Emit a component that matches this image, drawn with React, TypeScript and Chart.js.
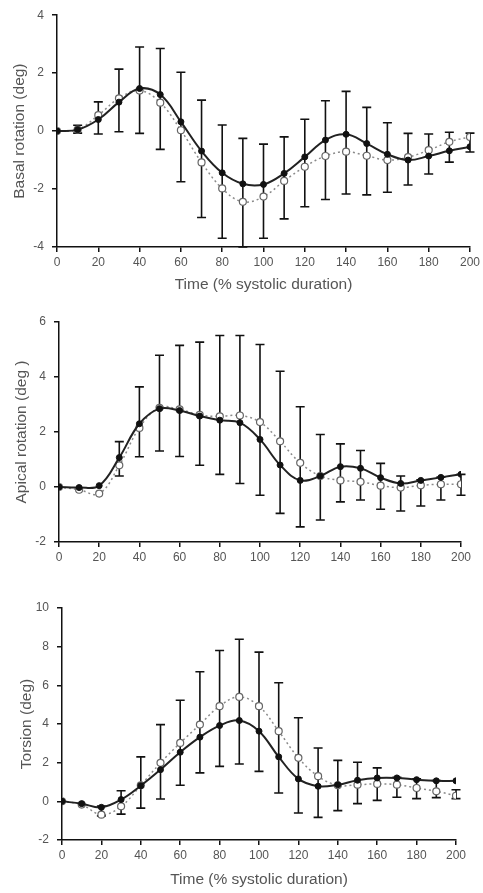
import React, { useEffect, useRef } from "react";
import { Chart, registerables } from "chart.js";

Chart.register(...registerables);

// ---------- data ----------
const timePoints = [0, 10, 20, 30, 40, 50, 60, 70, 80, 90, 100, 110, 120, 130, 140, 150, 160, 170, 180, 190, 200];

const basalSolid = [0, 0.05, 0.4, 1.0, 1.47, 1.26, 0.32, -0.69, -1.44, -1.82, -1.84, -1.46, -0.89, -0.31, -0.11, -0.43, -0.8, -1.0, -0.86, -0.68, -0.54];
const basalOpen = [0, 0.05, 0.55, 1.13, 1.4, 0.98, 0.03, -1.08, -1.98, -2.44, -2.26, -1.72, -1.23, -0.86, -0.71, -0.85, -1.0, -0.9, -0.66, -0.37, -0.2];
const basalErrHigh = [null, 0.2, 1.01, 2.14, 2.9, 2.85, 2.03, 1.07, 0.21, -0.25, -0.45, -0.2, 0.41, 1.05, 1.37, 0.82, 0.29, -0.08, -0.1, -0.04, -0.07];
const basalErrLow = [null, -0.07, -0.1, -0.02, -0.08, -0.63, -1.75, -2.98, -3.7, -4.0, -3.7, -3.03, -2.61, -2.36, -2.17, -2.2, -2.11, -1.86, -1.48, -1.07, -0.72];

const apicalSolid = [0, -0.02, 0.05, 1.07, 2.3, 2.85, 2.78, 2.58, 2.43, 2.34, 1.73, 0.8, 0.24, 0.4, 0.74, 0.68, 0.34, 0.13, 0.24, 0.35, 0.46];
const apicalOpen = [0, -0.1, -0.24, 0.79, 2.15, 2.88, 2.82, 2.62, 2.57, 2.6, 2.36, 1.66, 0.88, 0.4, 0.24, 0.19, 0.05, -0.02, 0.06, 0.1, 0.1];
const apicalErrHigh = [null, null, null, 1.65, 3.64, 4.79, 5.15, 5.27, 5.51, 5.51, 5.18, 4.21, 2.92, 1.91, 1.57, 1.33, 0.86, 0.4, 0.26, 0.36, 0.46];
const apicalErrLow = [null, null, null, 0.4, 1.1, 1.31, 1.11, 0.79, 0.46, 0.13, -0.3, -0.96, -1.45, -1.2, -0.54, -0.47, -0.81, -0.87, -0.69, -0.47, -0.3];

const torsionSolid = [0, -0.12, -0.31, 0.09, 0.81, 1.64, 2.54, 3.32, 3.92, 4.18, 3.63, 2.3, 1.16, 0.78, 0.86, 1.09, 1.21, 1.21, 1.12, 1.06, 1.06];
const torsionOpen = [0, -0.17, -0.69, -0.26, 0.83, 1.99, 3.02, 3.97, 4.92, 5.4, 4.92, 3.63, 2.25, 1.3, 0.83, 0.86, 0.9, 0.86, 0.69, 0.52, 0.29];
const torsionErrHigh = [null, null, -0.25, 0.55, 2.3, 3.97, 5.23, 6.7, 7.8, 8.38, 7.72, 6.13, 4.32, 2.76, 2.12, 2.02, 1.73, 1.24, 1.17, 1.07, 0.6];
const torsionErrLow = [null, null, -0.75, -0.66, -0.35, 0.12, 0.83, 1.47, 1.81, 1.93, 1.55, 0.43, -0.6, -0.83, -0.48, -0.12, 0.05, 0.21, 0.14, 0.19, 0.14];

const xTickStep = 20;
const xTitleText = "Time (% systolic duration)";

// ---------- styling ----------
const FONT_FAMILY = "'Liberation Sans', Arial, Helvetica, sans-serif";
const TEXT_COLOR = "#555";
const AXIS_COLOR = "#111";

const errorBarPlugin = {
  id: "errorBars",
  beforeDatasetsDraw(chart: any, _args: any, opts: any) {
    const { ctx, scales } = chart;
    const xs = scales.x;
    const ys = scales.y;
    const hi: (number | null)[] = opts.hi || [];
    const lo: (number | null)[] = opts.lo || [];
    const xv: number[] = opts.x || [];
    ctx.save();
    ctx.strokeStyle = "#111";
    ctx.lineWidth = 1.6;
    const cap = 4.5;
    for (let i = 0; i < xv.length; i++) {
      const h = hi[i];
      const l = lo[i];
      if (h == null || l == null) continue;
      const px = xs.getPixelForValue(xv[i]);
      const py1 = ys.getPixelForValue(h);
      const py2 = ys.getPixelForValue(l);
      ctx.beginPath();
      ctx.moveTo(px, py1);
      ctx.lineTo(px, py2);
      ctx.moveTo(px - cap, py1);
      ctx.lineTo(px + cap, py1);
      ctx.moveTo(px - cap, py2);
      ctx.lineTo(px + cap, py2);
      ctx.stroke();
    }
    ctx.restore();
  },
};

type PanelProps = {
  top: number;
  height: number;
  padding: { left: number; right: number; top: number; bottom: number };
  yWidth: number;
  xHeight: number;
  yMin: number;
  yMax: number;
  yTitle: string;
  yTitlePad: number;
  xTitle: string | null;
  xTitlePad: number;
  solid: number[];
  open: number[];
  hi: (number | null)[];
  lo: (number | null)[];
};

function Panel(p: PanelProps) {
  const ref = useRef<HTMLCanvasElement | null>(null);
  useEffect(() => {
    if (!ref.current) return;
    const pts = (arr: number[]) => arr.map((v, i) => ({ x: timePoints[i], y: v }));
    const tickFont = { family: FONT_FAMILY, size: 12 };
    const titleFont = { family: FONT_FAMILY, size: 15.5 };
    const chart = new Chart(ref.current, {
      type: "line",
      data: {
        datasets: [
          {
            data: pts(p.open),
            borderColor: "#8a8a8a",
            borderDash: [2, 3],
            borderWidth: 1.5,
            pointRadius: 3.5,
            pointBackgroundColor: "#fff",
            pointBorderColor: "#666",
            pointBorderWidth: 1.2,
            tension: 0.4,
            order: 2,
          },
          {
            data: pts(p.solid),
            borderColor: "#222",
            borderWidth: 2,
            pointRadius: 3,
            pointBackgroundColor: "#111",
            pointBorderColor: "#111",
            pointBorderWidth: 1,
            tension: 0.4,
            order: 1,
          },
        ],
      },
      options: {
        animation: false,
        responsive: false,
        maintainAspectRatio: false,
        layout: { padding: p.padding },
        plugins: {
          legend: { display: false },
          tooltip: { enabled: false },
          errorBars: { hi: p.hi, lo: p.lo, x: timePoints },
        } as any,
        scales: {
          x: {
            type: "linear",
            min: 0,
            max: 200,
            ticks: { stepSize: xTickStep, color: TEXT_COLOR, font: tickFont, padding: 3, maxRotation: 0 },
            grid: { display: true, drawOnChartArea: false, drawTicks: true, tickLength: 5, color: AXIS_COLOR, lineWidth: 1.5 },
            border: { display: true, color: AXIS_COLOR, width: 1.5 },
            title: {
              display: !!p.xTitle,
              text: p.xTitle || "",
              color: TEXT_COLOR,
              font: titleFont,
              padding: { top: 0, bottom: p.xTitlePad },
            },
            afterFit: (s: any) => {
              s.height = p.xHeight;
            },
          },
          y: {
            type: "linear",
            min: p.yMin,
            max: p.yMax,
            ticks: { stepSize: 2, color: TEXT_COLOR, font: tickFont, padding: 8 },
            grid: { display: true, drawOnChartArea: false, drawTicks: true, tickLength: 5, color: AXIS_COLOR, lineWidth: 1.5 },
            border: { display: true, color: AXIS_COLOR, width: 1.5 },
            title: {
              display: true,
              text: p.yTitle,
              color: TEXT_COLOR,
              font: titleFont,
              padding: { top: p.yTitlePad, bottom: 0 },
            },
            afterFit: (s: any) => {
              s.width = p.yWidth;
            },
          },
        },
      },
      plugins: [errorBarPlugin as any],
    });
    return () => chart.destroy();
  }, []);
  return (
    <canvas
      ref={ref}
      width={483}
      height={p.height}
      style={{ position: "absolute", left: 0, top: p.top, width: 483, height: p.height, display: "block" }}
    />
  );
}

export default function App() {
  return (
    <div style={{ position: "absolute", left: 0, top: 0, width: 483, height: 893, background: "#fff" }}>
      <Panel
        top={0}
        height={300}
        padding={{ left: 0, right: 12, top: 15, bottom: 0 }}
        yWidth={57}
        xHeight={53}
        yMin={-4}
        yMax={4}
        yTitle="Basal rotation (deg)"
        yTitlePad={10}
        xTitle={xTitleText}
        xTitlePad={6}
        solid={basalSolid}
        open={basalOpen}
        hi={basalErrHigh}
        lo={basalErrLow}
      />
      <Panel
        top={300}
        height={290}
        padding={{ left: 0, right: 22, top: 22, bottom: 0 }}
        yWidth={59}
        xHeight={48}
        yMin={-2}
        yMax={6}
        yTitle="Apical rotation (deg )"
        yTitlePad={12}
        xTitle={null}
        xTitlePad={0}
        solid={apicalSolid}
        open={apicalOpen}
        hi={apicalErrHigh}
        lo={apicalErrLow}
      />
      <Panel
        top={590}
        height={303}
        padding={{ left: 0, right: 27, top: 18, bottom: 0 }}
        yWidth={62}
        xHeight={53}
        yMin={-2}
        yMax={10}
        yTitle="Torsion (deg)"
        yTitlePad={17}
        xTitle={xTitleText}
        xTitlePad={4}
        solid={torsionSolid}
        open={torsionOpen}
        hi={torsionErrHigh}
        lo={torsionErrLow}
      />
    </div>
  );
}
